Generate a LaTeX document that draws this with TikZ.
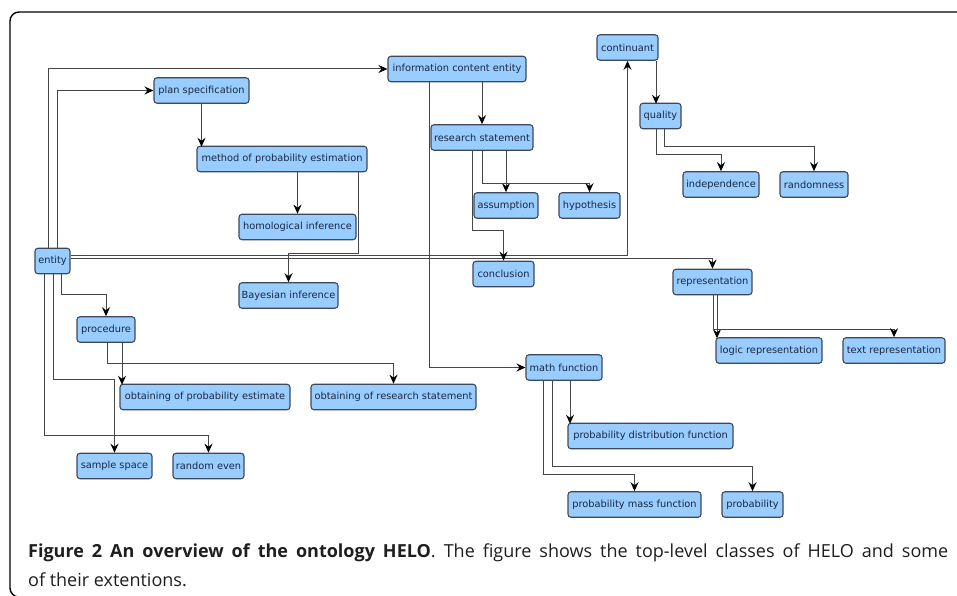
\documentclass[tikz,border=0pt]{standalone}
\usepackage{fontspec}
\setmainfont{DejaVu Sans}
\newfontfamily\capfont{Open Sans}
\usetikzlibrary{arrows.meta,calc}
\definecolor{boxfill}{RGB}{153,204,255}
\definecolor{boxline}{RGB}{60,72,92}
\definecolor{boxtext}{RGB}{25,40,65}
\definecolor{wire}{RGB}{70,70,70}
\definecolor{captext}{RGB}{30,30,30}
\tikzset{
  cls/.style={draw=boxline, fill=boxfill, line width=1.1pt, rounded corners=3pt,
    minimum height=25.5pt, inner sep=0pt, text=boxtext,
    font=\fontsize{9.8}{11}\selectfont, anchor=center},
  isa/.style={draw=wire, line width=1pt,
    -{Stealth[length=9pt,width=8pt,inset=3pt,color=black]}},
  capline/.style={anchor=base west, inner sep=0pt, text=captext,
    font=\capfont\fontsize{18}{21}\selectfont},
}
\begin{document}
\begin{tikzpicture}[x=1pt,y=-1pt]
\useasboundingbox (0,0) rectangle (957,596);
\clip (0,0) rectangle (957,596);
\draw[line width=1.4pt, rounded corners=9pt] (10,12) rectangle (990,597);

% nodes
\node[cls, minimum width=138pt] (ice)  at (457,69)    {information content entity};
\node[cls, minimum width=95pt]  (ps)   at (201.5,90.5) {plan specification};
\node[cls, minimum width=170pt] (mpe)  at (282,159)   {method of probability estimation};
\node[cls, minimum width=117pt] (hi)   at (297.5,227) {homological inference};
\node[cls, minimum width=35pt]  (ent)  at (52.5,261)  {entity};
\node[cls, minimum width=99pt]  (bi)   at (288.5,295.5) {Bayesian inference};
\node[cls, minimum width=102pt] (rs)   at (482,137.5) {research statement};
\node[cls, minimum width=61pt]  (cont) at (627.5,47.5) {continuant};
\node[cls, minimum width=41pt]  (qual) at (660.5,116) {quality};
\node[cls, minimum width=76pt]  (ind)  at (721,184.5) {independence};
\node[cls, minimum width=68pt]  (rnd)  at (814,184.5) {randomness};
\node[cls, minimum width=64pt]  (asm)  at (506,205.5) {assumption};
\node[cls, minimum width=61pt]  (hyp)  at (589.5,205.5) {hypothesis};
\node[cls, minimum width=61pt]  (conc) at (503.5,274) {conclusion};
\node[cls, minimum width=79pt]  (rep)  at (712.5,282) {representation};
\node[cls, minimum width=58pt]  (proc) at (106,329.5) {procedure};
\node[cls, minimum width=170pt] (ope)  at (205,397)   {obtaining of probability estimate};
\node[cls, minimum width=165pt] (ors)  at (393.5,397) {obtaining of research statement};
\node[cls, minimum width=75pt]  (ss)   at (114.5,466) {sample space};
\node[cls, minimum width=71pt]  (re)   at (208.5,466) {random even};
\node[cls, minimum width=106pt] (lrep) at (769,350.5) {logic representation};
\node[cls, minimum width=102pt] (trep) at (894,350.5) {text representation};
\node[cls, minimum width=76pt]  (mf)   at (564,367.5) {math function};
\node[cls, minimum width=165pt] (pdf)  at (650.5,436) {probability distribution function};
\node[cls, minimum width=133pt] (pmf)  at (634.5,504.5) {probability mass function};
\node[cls, minimum width=61pt]  (prob) at (752.5,504.5) {probability};

% connectors from entity
\draw[isa] ($(ent.north)+(-4.5,0)$) |- (ice.west);
\draw[isa] ($(ent.north)+(4.5,0)$) |- (ps.west);
\draw[isa] ($(ent.east)+(0,-5.3)$) -| (cont.south);
\draw[isa] ($(ent.east)+(0,-2.7)$) -| (rep.north);
\draw[isa] ($(ent.south)+(8.5,0)$) -- ++(0,20) -| (proc.north);
\draw[isa] ($(ent.south)+(0.5,0)$) -- ++(0,105) -| (ss.north);
\draw[isa] ($(ent.south)+(-8.5,0)$) -- ++(0,161) -| (re.north);

% plan specification branch
\draw[isa] (ps.south) -- ++(0,43);
\draw[isa] (hi.north |- mpe.south) -- (hi.north);
\draw[isa] ($(mpe.south)+(76,0)$) -- ++(0,81) -| (bi.north);

% information content entity branch
\draw[isa] (rs.north |- ice.south) -- (rs.north);
\draw[isa] ($(ice.south)+(-28,0)$) |- (mf.west);
\draw[isa] (asm.north |- rs.south) -- (asm.north);
\draw[isa] (rs.south) -- ++(0,33) -| (hyp.north);
\draw[isa] ($(rs.south)+(-10,0)$) -- ++(0,80) -| (conc.north);

% continuant branch
\draw[isa] ($(cont.south)+(28.5,0)$) -- ++(0,43);
\draw[isa] ($(qual.south)+(-4.5,0)$) -- ++(0,25) -| (ind.north);
\draw[isa] ($(qual.south)+(3.5,0)$) -- ++(0,17) -| (rnd.north);

% representation branch
\draw[isa] ($(rep.south)+(4.5,0)$) -- ++(0,43);
\draw[isa] ($(rep.south)+(0.5,0)$) -- ++(0,34) -| (trep.north);

% math function branch
\draw[isa] ($(mf.south)+(6,0)$) -- ++(0,43);
\draw[isa] ($(mf.south)+(-21,0)$) -- ++(0,94) -| (pmf.north);
\draw[isa] ($(mf.south)+(-12,0)$) -- ++(0,86) -| (prob.north);

% procedure branch
\draw[isa] ($(proc.south)+(16,0)$) -- ++(0,42);
\draw[isa] ($(proc.south)+(1,0)$) -- ++(0,21) -| (ors.north);

% caption
\node[capline] (cap1) at (28,557) {\makebox[920pt][s]{\textbf{Figure 2 An overview of the ontology HELO}. The figure shows the top-level classes of HELO and some}};
\node[capline] (cap2) at (28,586) {of their extentions.};
\end{tikzpicture}
\end{document}
